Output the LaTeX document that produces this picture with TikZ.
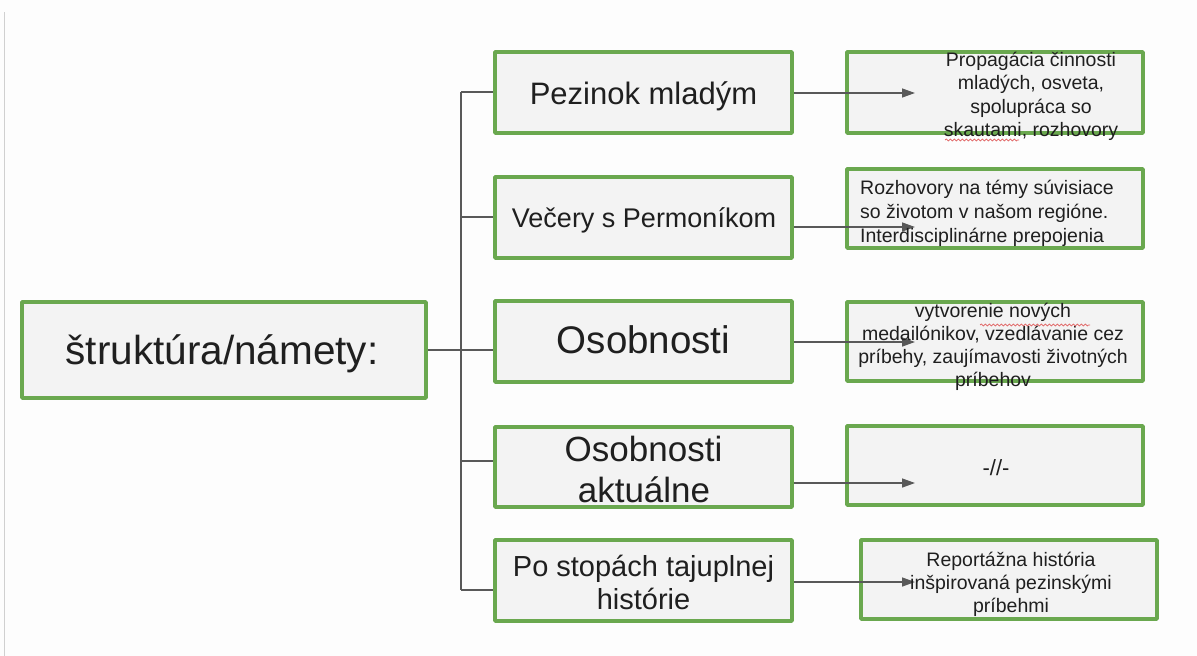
\documentclass[tikz,border=0pt]{standalone}
\usepackage{fontspec}
\setmainfont{Liberation Sans}
\usetikzlibrary{arrows.meta,decorations.pathmorphing}
\definecolor{boxgreen}{HTML}{6AA84F}
\definecolor{boxfill}{HTML}{F3F3F3}
\definecolor{linegray}{HTML}{595959}
\definecolor{txt}{HTML}{1F1F1F}
\definecolor{bgcol}{HTML}{FDFDFD}
\definecolor{leftrule}{HTML}{D0D0D0}
\definecolor{squigred}{HTML}{E06060}
\begin{document}
\begin{tikzpicture}[x=1pt,y=-1pt,
  gbox/.style={draw=boxgreen, line width=3.6pt, fill=boxfill, rectangle, inner sep=0pt, line join=round},
  conn/.style={draw=linegray, line width=1.4pt},
  arr/.style={conn, -{Triangle[length=13pt,width=9pt]}},
  lbl/.style={text=txt, inner sep=0pt, anchor=base},
  small/.style={lbl, font=\fontsize{19.5}{23}\selectfont},
  squig/.style={draw=squigred, line width=0.7pt, decorate, decoration={snake, segment length=4pt, amplitude=1pt}}
]
\fill[bgcol] (0,0) rectangle (1197,656);
\useasboundingbox (0,0) rectangle (1197,656);
\draw[leftrule, line width=1.8pt] (4.5,12) -- (4.5,656);

% boxes
\node[gbox, minimum width=404pt, minimum height=96pt] (root) at (224,350) {};
\node[gbox, minimum width=297pt, minimum height=81pt] (m1) at (643.5,92.5) {};
\node[gbox, minimum width=297pt, minimum height=81pt] (m2) at (643.5,217.5) {};
\node[gbox, minimum width=297pt, minimum height=81pt] (m3) at (643.5,341.5) {};
\node[gbox, minimum width=297pt, minimum height=80pt] (m4) at (643.5,467) {};
\node[gbox, minimum width=297pt, minimum height=81pt] (m5) at (643.5,580.5) {};
\node[gbox, minimum width=296pt, minimum height=81pt] (r1) at (995,92.5) {};
\node[gbox, minimum width=296pt, minimum height=79pt] (r2) at (995,208.5) {};
\node[gbox, minimum width=296pt, minimum height=79pt] (r3) at (995,341.5) {};
\node[gbox, minimum width=296pt, minimum height=79pt] (r4) at (995,465.5) {};
\node[gbox, minimum width=296pt, minimum height=79pt] (r5) at (1009,579.5) {};

% tree connectors
\coordinate (btop) at (461,92);
\coordinate (b2) at (461,217);
\coordinate (b4) at (461,461);
\coordinate (b5) at (461,590);
\draw[conn] (btop) -- (b5);
\draw[conn] (btop) -- (btop -| m1.west);
\draw[conn] (b2) -- (b2 -| m2.west);
\draw[conn] (root.east) -- (root.east -| m3.west);
\draw[conn] (b4) -- (b4 -| m4.west);
\draw[conn] (b5) -- (b5 -| m5.west);

% arrows
\coordinate (t1) at (915,93);
\coordinate (t2) at (915,227);
\coordinate (t3) at (915,342);
\coordinate (t4) at (915,483);
\coordinate (t5) at (915,582);
\draw[arr] (t1 -| m1.east) -- (t1);
\draw[arr] (t2 -| m2.east) -- (t2);
\draw[arr] (t3 -| m3.east) -- (t3);
\draw[arr] (t4 -| m4.east) -- (t4);
\draw[arr] (t5 -| m5.east) -- (t5);

% texts
\node[lbl, font=\fontsize{40.5}{48}\selectfont] (roott) at (222,364) {štruktúra/námety:};
\node[lbl, font=\fontsize{31}{36}\selectfont] (m1t) at (643.5,104) {Pezinok mladým};
\node[lbl, font=\fontsize{27}{32}\selectfont] (m2t) at (644,227) {Večery s Permoníkom};
\node[lbl, font=\fontsize{38.5}{45}\selectfont] (m3t) at (643.5,353) {Osobnosti};
\node[lbl, font=\fontsize{35}{41}\selectfont] (m4a) at (643.5,461) {Osobnosti};
\node[lbl, font=\fontsize{35}{41}\selectfont] (m4b) at (644,502) {aktuálne};
\node[lbl, font=\fontsize{29}{34}\selectfont] (m5a) at (643.5,576) {Po stopách tajuplnej};
\node[lbl, font=\fontsize{29}{34}\selectfont] (m5b) at (643.5,609) {histórie};

\node[small] (r1a) at (1031,66) {Propagácia činnosti};
\node[small] (r1b) at (1031,89.5) {mladých, osveta,};
\node[small] (r1c) at (1031,113) {spolupráca so};
\node[small] (r1d) at (1031,136.5) {skautami, rozhovory};

\node[small, anchor=base west] (r2a) at (860,194) {Rozhovory na témy súvisiace};
\node[small, anchor=base west] (r2b) at (860,218) {so životom v našom regióne.};
\node[small, anchor=base west] (r2c) at (860,242) {Interdisciplinárne prepojenia};

\node[small] (r3a) at (993,317) {vytvorenie nových};
\node[small] (r3b) at (993,340) {medailónikov, vzedlávanie cez};
\node[small] (r3c) at (993,363) {príbehy, zaujímavosti životných};
\node[small] (r3d) at (993,386) {príbehov};

\node[lbl, font=\fontsize{22}{26}\selectfont] (r4t) at (996,475) {-//-};

\node[small] (r5a) at (1011,566) {Reportážna história};
\node[small] (r5b) at (1011,589) {inšpirovaná pezinskými};
\node[small] (r5c) at (1011,612) {príbehmi};

% spell-check squiggles
\draw[squig] (945,140) -- (1019,140);
\draw[squig] (980,325) -- (1090,325);
\end{tikzpicture}
\end{document}
